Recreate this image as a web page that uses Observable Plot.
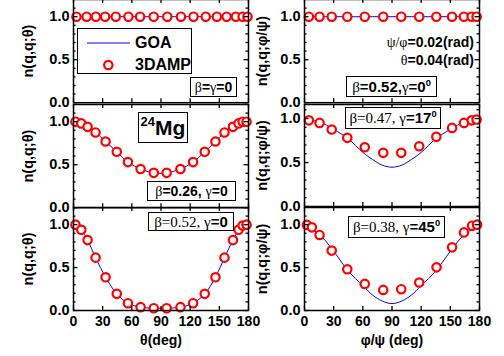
<!DOCTYPE html>
<html><head><meta charset="utf-8">
<script src="https://cdn.jsdelivr.net/npm/d3@7"></script>
<script src="https://cdn.jsdelivr.net/npm/@observablehq/plot@0.6"></script>
<style>
body{margin:0;background:#fff;}
#chart{position:relative;width:504px;height:356px;overflow:hidden;background:#fff;font-family:"Liberation Sans",Arial,sans-serif;color:#000;}
#chart svg.plotpanel{position:absolute;}
.box{position:absolute;border:1.4px solid #000;box-sizing:border-box;display:flex;align-items:center;justify-content:center;background:#fff;white-space:nowrap;font-weight:bold;font-size:14px;line-height:1;}
.txt{position:absolute;white-space:nowrap;font-weight:bold;font-size:14px;line-height:16px;}
.g{font-family:"Liberation Serif","Times New Roman",serif;font-weight:normal;}
sup{font-size:0.62em;vertical-align:0.6em;line-height:0;}
</style></head><body><div id="chart"></div><script>
// ---- data ----
const xTicks = [0, 30, 60, 90, 120, 150, 180];
const yMajor = [0, 0.5, 1.0];
const yMinor = [0.1, 0.2, 0.3, 0.4, 0.6, 0.7, 0.8, 0.9, 1.1];

// left column: theta (deg)
const thetaTop = [3, 13.5, 23, 32.5, 43.5, 56.5, 68.5, 82.5, 96.5, 110.5, 123.5, 136, 147.5, 157.5, 167, 174, 179];
const damp00 = [1, 1, 1, 1, 1, 1, 1, 1, 1, 1, 1, 1, 1, 1, 1, 1, 1];
const thetaGoaTop = [0, 180];
const goa00 = [1, 1];

const theta = [2, 8, 14.5, 22.7, 33, 44.5, 56, 69, 82.6, 95.8, 110, 123, 135, 146, 155.3, 164, 169.8, 174, 178];
const damp026 = [1.0, 0.98, 0.94, 0.875, 0.77, 0.65, 0.53, 0.45, 0.405, 0.405, 0.45, 0.53, 0.65, 0.77, 0.875, 0.94, 0.98, 1.0, 1.0];
const damp052 = [1.0, 0.94, 0.82, 0.616, 0.387, 0.194, 0.085, 0.039, 0.027, 0.027, 0.039, 0.085, 0.194, 0.387, 0.616, 0.82, 0.94, 0.99, 1.0];

// right column: phi/psi (deg)
const phiA = [4.5, 15.5, 28, 44, 62, 81, 99.5, 118, 135.6, 151.8, 164, 172, 177];
const dampR0 = [1, 1, 1, 1, 1, 1, 1, 1, 1, 1, 1, 1, 1];
const dampR17 = [0.98, 0.951, 0.875, 0.781, 0.674, 0.61, 0.61, 0.685, 0.792, 0.894, 0.951, 0.98, 0.989];
const phiB = [2.5, 7.6, 15.5, 28, 44, 62, 81, 99.5, 118, 135.8, 151.8, 164, 172.4, 177.5];
const dampR45 = [0.997, 0.969, 0.88, 0.698, 0.48, 0.31, 0.24, 0.248, 0.326, 0.503, 0.736, 0.91, 0.988, 1.0];

const phiLine = [0, 15, 30, 45, 60, 70, 80, 90, 100, 110, 120, 135, 150, 165, 180];
const goaR0 = [1, 1, 1, 1, 1, 1, 1, 1, 1, 1, 1, 1, 1, 1, 1];
const goaR17 = [0.99, 0.963, 0.878, 0.77, 0.615, 0.535, 0.47, 0.447, 0.47, 0.535, 0.615, 0.77, 0.878, 0.963, 0.99];
const goaR45 = [0.99, 0.89, 0.69, 0.46, 0.29, 0.18, 0.11, 0.08, 0.11, 0.18, 0.29, 0.46, 0.69, 0.89, 0.99];

const zip = (xs, ys) => xs.map((x, i) => ({x, y: ys[i]}));

const chart = document.getElementById("chart");

function panel({left, width, mL, mR, frameTop, frameBottom, yDomain, pts, line, ylabel, labelOffset, xlabel, bottomRow}) {
  const mt = 8, mb = bottomRow ? 46 : 8;
  const H = frameBottom - frameTop;
  const W = width - mL - mR;
  const tickStyle = {stroke: "black", strokeWidth: 1.3};
  const marks = [
    Plot.lineY(line, {x: "x", y: "y", stroke: "#0000ff", strokeWidth: 1, curve: "catmull-rom"}),
    Plot.dot(pts, {x: "x", y: "y", r: 4.2, stroke: "#ff0000", strokeWidth: 2.2, fill: "white"}),
    Plot.ruleX(xTicks, {...tickStyle, insetTop: H - 4}),
    Plot.ruleX(xTicks, {...tickStyle, insetBottom: H - 4}),
    Plot.ruleY(yMajor, {...tickStyle, insetRight: W - 4.5}),
    Plot.ruleY(yMajor, {...tickStyle, insetLeft: W - 4.5}),
    Plot.ruleY(yMinor.filter(v => v <= yDomain[1]), {...tickStyle, insetRight: W - 2.5}),
    Plot.ruleY(yMinor.filter(v => v <= yDomain[1]), {...tickStyle, insetLeft: W - 2.5}),
    Plot.axisY(yMajor, {tickSize: 0, tickPadding: 4, tickFormat: d3.format(".1f"), label: ylabel, labelAnchor: "center", labelOffset, labelArrow: "none", fontSize: 14.5, fontWeight: "bold"}),
    bottomRow
      ? Plot.axisX(xTicks, {tickSize: 0, tickPadding: 6, tickFormat: d3.format("d"), label: xlabel, labelAnchor: "center", labelOffset: 34, labelArrow: "none", fontSize: 14, fontWeight: "bold"})
      : Plot.axisX([], {label: null, tickSize: 0}),
    Plot.frame({stroke: "black", strokeWidth: 1.5})
  ];
  const svg = Plot.plot({
    width, height: H + mt + mb,
    marginLeft: mL, marginRight: mR, marginTop: mt, marginBottom: mb,
    style: {background: "transparent", overflow: "visible", fontFamily: "'Liberation Sans', Arial, sans-serif", fontWeight: "bold", fontSize: "14px", color: "black"},
    x: {domain: [0, 180]},
    y: {domain: yDomain},
    marks
  });
  svg.classList.add("plotpanel");
  svg.style.left = left + "px";
  svg.style.top = (frameTop - mt) + "px";
  chart.appendChild(svg);
}

const L = {left: 0, width: 252, mL: 73, mR: 4, ylabel: "n(q,q;θ)", labelOffset: 51, xlabel: "θ(deg)"};
const R = {left: 252, width: 252, mL: 52, mR: 25, ylabel: "n(q,q;φ/ψ)", labelOffset: 48, xlabel: "φ/ψ (deg)"};

panel({...L, frameTop: -1.2, frameBottom: 102, yDomain: [0, 1.2], pts: zip(thetaTop, damp00), line: zip(thetaGoaTop, goa00)});
panel({...L, frameTop: 103.8, frameBottom: 207, yDomain: [0, 1.2], pts: zip(theta, damp026), line: zip(theta, damp026)});
panel({...L, frameTop: 207, frameBottom: 310, yDomain: [0, 1.2], pts: zip(theta, damp052), line: zip(theta, damp052), bottomRow: true});

panel({...R, frameTop: -1.2, frameBottom: 102, yDomain: [0, 1.2], pts: zip(phiA, dampR0), line: zip(phiLine, goaR0)});
panel({...R, frameTop: 104, frameBottom: 206, yDomain: [0, 1.16], pts: zip(phiA, dampR17), line: zip(phiLine, goaR17)});
panel({...R, frameTop: 207, frameBottom: 310, yDomain: [0, 1.2], pts: zip(phiB, dampR45), line: zip(phiLine, goaR45), bottomRow: true});

// ---- annotations ----
function add(cls, style, html) {
  const d = document.createElement("div");
  d.className = cls;
  Object.assign(d.style, style);
  d.innerHTML = cls === "box" ? "<span>" + html + "</span>" : html;
  chart.appendChild(d);
  return d;
}
// legend
add("box", {left: "77px", top: "28px", width: "115px", height: "46px", display: "block"}, "");
const ns = "http://www.w3.org/2000/svg";
const lg = document.createElementNS(ns, "svg");
lg.setAttribute("width", 115); lg.setAttribute("height", 46);
Object.assign(lg.style, {position: "absolute", left: "77px", top: "28px", overflow: "visible"});
lg.innerHTML = '<line x1="10" y1="15" x2="53" y2="15" stroke="#0000ff" stroke-width="1"/>' +
  '<circle cx="31.3" cy="37" r="4.2" fill="white" stroke="#ff0000" stroke-width="2.2"/>';
chart.appendChild(lg);
add("txt", {left: "135px", top: "35px", fontSize: "16px"}, "GOA");
add("txt", {left: "135px", top: "57px", fontSize: "16px"}, "3DAMP");

add("box", {left: "190px", top: "77px", width: "47px", height: "20px"}, '<span class="g">β</span>=<span class="g">γ</span>=0');
add("box", {left: "138px", top: "112px", width: "50px", height: "31px", fontSize: "21px"}, '<sup style="font-size:13px;vertical-align:9px">24</sup>Mg');
add("box", {left: "147px", top: "181px", width: "89px", height: "20px"}, '<span class="g">β</span>=0.26, <span class="g">γ</span>=0');
add("box", {left: "148px", top: "212px", width: "86px", height: "19px", fontSize: "15px"}, '<span class="g">β=0.52, γ</span>=0');

add("txt", {right: (504 - 474) + "px", top: "34px"}, '<span class="g">ψ/φ</span>=0.02(rad)');
add("txt", {right: (504 - 474) + "px", top: "52px"}, '<span class="g">θ</span>=0.04(rad)');
add("box", {left: "346px", top: "76px", width: "91px", height: "21px", fontSize: "15px"}, '<span class="g">β</span>=0.52,<span class="g">γ</span>=0<sup>0</sup>');
add("box", {left: "345px", top: "107px", width: "96px", height: "22px", fontSize: "15px"}, '<span class="g">β=0.47, γ</span>=17<sup>0</sup>');
add("box", {left: "348px", top: "216px", width: "97px", height: "22px", fontSize: "15px"}, '<span class="g">β=0.38, γ</span>=45<sup>0</sup>');
</script></body></html>
